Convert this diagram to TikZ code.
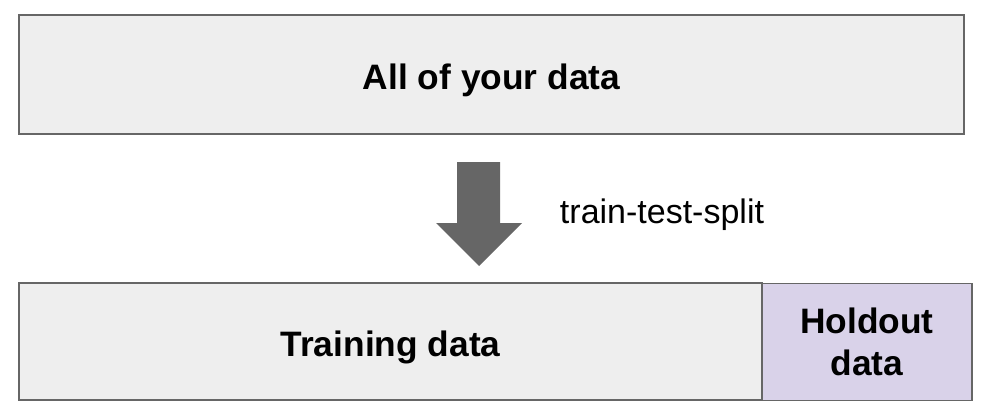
\documentclass[tikz,border=0pt]{standalone}
\usepackage{fontspec}
\setmainfont{Liberation Sans}
\usepackage{tikz}
\definecolor{boxgray}{HTML}{EEEEEE}
\definecolor{boxline}{HTML}{666666}
\definecolor{holdlav}{HTML}{D9D2E9}
\tikzset{
        databox/.style={draw=boxline, line width=1pt, fill=boxgray, inner sep=0pt,
                font=\fontsize{26.5}{31}\selectfont\bfseries, align=center},
        oneline/.style={text height=24pt, text depth=1pt},
}

\begin{document}
\begin{tikzpicture}[x=0.75pt, y=-0.75pt]
        \useasboundingbox (0,0) rectangle (998,414);
        \node (all) [databox, oneline, minimum width=708.75pt, minimum height=89.25pt] at (491.5, 74.5) {All of your data};
        % big down arrow
        \fill [boxline] (457,162) -- (500,162) -- (500,223) -- (522,223) -- (479,266)
                -- (436,223) -- (457,223) -- cycle;
        \node (lbl) [font=\fontsize{25.5}{30}\selectfont] at (662, 215) {train-test-split};
        \node (train) [databox, oneline, minimum width=557.25pt, minimum height=87.75pt] at (390.5, 341.5) {Training data};
        \node (hold) [databox, fill=holdlav, minimum width=157.5pt, minimum height=87.75pt] at (867, 342) {Holdout\\data};
\end{tikzpicture}
\end{document}
